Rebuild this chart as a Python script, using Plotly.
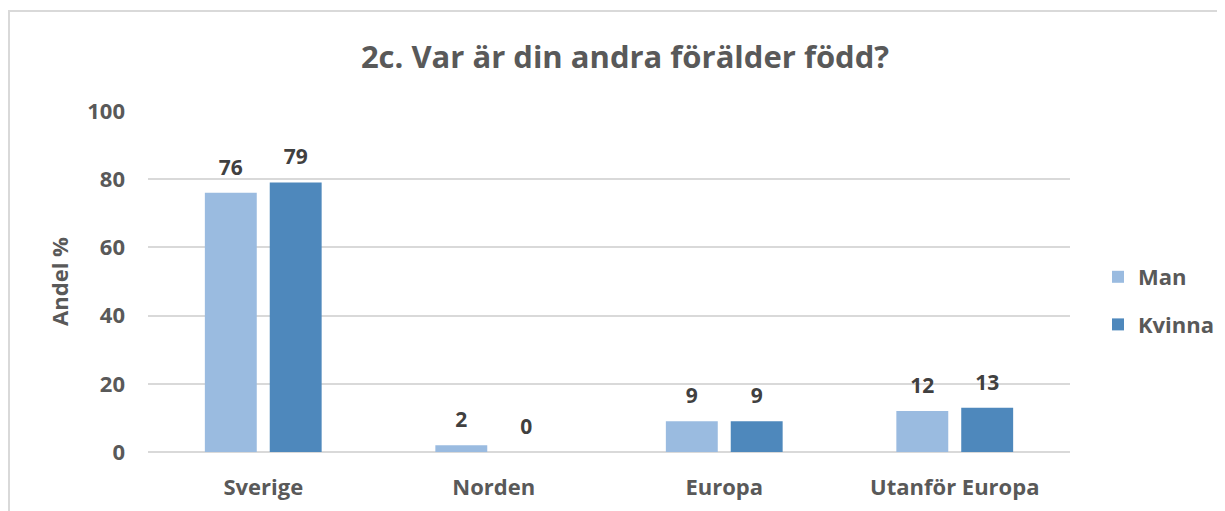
import plotly.graph_objects as go

categories = ["Sverige", "Norden", "Europa", "Utanför Europa"]
man = [76, 2, 9, 12]
kvinna = [79, 0, 9, 13]
y_ticks = [0, 20, 40, 60, 80, 100]

FONT = "Open Sans"
W, H = 1225, 511
OFF = 8  # page body margin
L, T = 148 - OFF, 111 - OFF
pw, ph = 922, 341
R, B = W - L - pw, H - T - ph
GAP = 0.437


def px_x(p):
    return (p - OFF - L) / pw


def px_y(p):
    return (T + ph - (p - OFF)) / ph


fig = go.Figure()
series = [("Man", man, "#9ABBE0"), ("Kvinna", kvinna, "#4E88BC")]
for name, vals, col in series:
    fig.add_trace(go.Bar(name=name, x=categories, y=vals, marker_color=col,
                         marker_line_width=0, legendgroup=name))
for name, vals, col in series:
    fig.add_trace(go.Scatter(x=categories, y=vals, mode="markers+text", text=vals,
                             textposition="top center", showlegend=False, hoverinfo="skip",
                             marker=dict(size=19, opacity=0), cliponaxis=False,
                             textfont=dict(family=FONT, size=21, color="#404040", weight="bold")))

fig.update_layout(
    width=W, height=H,
    margin=dict(l=L, r=R, t=T, b=B, autoexpand=False),
    paper_bgcolor="white", plot_bgcolor="white",
    barmode="group", bargap=GAP, bargroupgap=0.2,
    scattermode="group", scattergap=GAP,
    font=dict(family=FONT, color="#595959"),
    title=dict(text="2c. Var är din andra förälder född?", x=(625 - OFF) / W, xanchor="center",
               y=1 - (57 - OFF) / H, yanchor="middle",
               font=dict(family=FONT, size=31, color="#595959", weight="bold")),
    legend=dict(x=px_x(1098), xanchor="left", y=px_y(256), yanchor="top",
                font=dict(family=FONT, size=22, color="#595959", weight="bold"),
                itemwidth=30, tracegroupgap=16, bgcolor="rgba(0,0,0,0)"),
    xaxis=dict(showgrid=False, zeroline=False, showline=False, ticks="",
               ticklabelstandoff=20,
               tickfont=dict(family=FONT, size=22, color="#595959", weight="bold")),
    yaxis=dict(range=[0, 100], tickvals=y_ticks, showgrid=True, gridcolor="#D9D9D9",
               gridwidth=1.5, zeroline=True, zerolinecolor="#D9D9D9", zerolinewidth=1.5,
               ticks="", ticklabelstandoff=22,
               tickfont=dict(family=FONT, size=22, color="#595959", weight="bold"),
               title=dict(text="Andel %", standoff=12,
                          font=dict(family=FONT, size=22, color="#595959", weight="bold"))),
)

fig.add_shape(type="rect", xref="paper", yref="paper",
              x0=px_x(9), x1=px_x(W + 40), y0=px_y(H + 40), y1=px_y(11),
              line=dict(color="#D9D9D9", width=2), layer="below")

fig.write_html("out.html")
